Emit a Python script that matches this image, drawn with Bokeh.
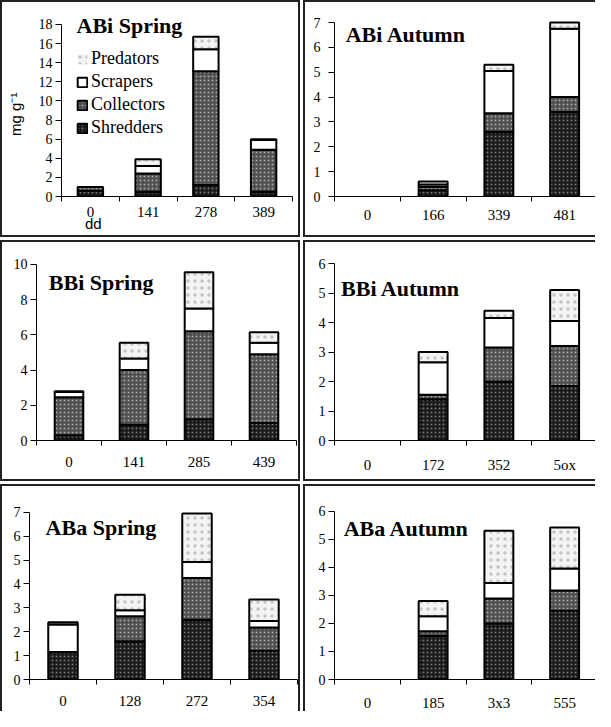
from bokeh.plotting import figure
from bokeh.models import (FixedTicker, Label, Legend, LegendItem, Range1d, ColumnDataSource,
                          LinearAxis)
from bokeh.layouts import row, column
from bokeh.embed import file_html
from bokeh.resources import INLINE

# ---------------- data (mg g-1 per functional feeding group) ----------------
groups = ["Shredders", "Collectors", "Scrapers", "Predators"]

abi_spring_dd = ["0", "141", "278", "389"]
abi_spring_shredders = [0.6, 0.5, 1.2, 0.5]
abi_spring_collectors = [0.4, 1.9, 11.9, 4.4]
abi_spring_scrapers = [0.0, 0.8, 2.3, 1.0]
abi_spring_predators = [0.0, 0.7, 1.3, 0.1]

abi_autumn_dd = ["0", "166", "339", "481"]
abi_autumn_shredders = [0.0, 0.25, 2.6, 3.4]
abi_autumn_collectors = [0.0, 0.13, 0.75, 0.6]
abi_autumn_scrapers = [0.0, 0.1, 1.7, 2.75]
abi_autumn_predators = [0.0, 0.12, 0.25, 0.25]

bbi_spring_dd = ["0", "141", "285", "439"]
bbi_spring_shredders = [0.3, 0.9, 1.2, 1.0]
bbi_spring_collectors = [2.15, 3.1, 5.0, 3.9]
bbi_spring_scrapers = [0.3, 0.65, 1.3, 0.65]
bbi_spring_predators = [0.05, 0.9, 2.05, 0.6]

bbi_autumn_dd = ["0", "172", "352", "5ox"]
bbi_autumn_shredders = [0.0, 1.4, 2.0, 1.85]
bbi_autumn_collectors = [0.0, 0.15, 1.15, 1.35]
bbi_autumn_scrapers = [0.0, 1.1, 1.0, 0.85]
bbi_autumn_predators = [0.0, 0.35, 0.25, 1.05]

aba_spring_dd = ["0", "128", "272", "354"]
aba_spring_shredders = [1.15, 1.6, 2.5, 1.2]
aba_spring_collectors = [0.0, 1.05, 1.75, 0.98]
aba_spring_scrapers = [1.15, 0.25, 0.67, 0.27]
aba_spring_predators = [0.1, 0.65, 2.03, 0.9]

aba_autumn_dd = ["0", "185", "3x3", "555"]
aba_autumn_shredders = [0.0, 1.55, 2.0, 2.45]
aba_autumn_collectors = [0.0, 0.17, 0.89, 0.72]
aba_autumn_scrapers = [0.0, 0.53, 0.55, 0.79]
aba_autumn_predators = [0.0, 0.55, 1.86, 1.46]

y_title = "mg g\u207b\u00b9"
x_title = "dd"

# ---------------- styles ----------------
STYLE = {
    "Shredders": dict(fill_color="#1a1a1a", hatch_pattern=".", hatch_color="#767676", hatch_scale=4, hatch_weight=1),
    "Collectors": dict(fill_color="#4f4f4f", hatch_pattern=".", hatch_color="#a8a8a8", hatch_scale=4, hatch_weight=1),
    "Scrapers": dict(fill_color="white"),
    "Predators": dict(fill_color="#f3f3f3", hatch_pattern=".", hatch_color="#c4c4c4", hatch_scale=7, hatch_weight=1),
}
BORDER = "2px solid #222"
SERIF = "Liberation Serif"
SANS = "Liberation Sans"
MB_TOP = 3


def make_panel(title, cats, series, ymax, ystep, width, height, mb, top_tick_px, title_xy,
               borders, xstandoff, ystandoff=3, legend=False, ylabel=None, xlabel=None):
    n = len(cats)
    zero_px = height - mb[3]
    # extend the plotting area above the top tick so the panel title fits inside it
    y_end = ymax * (zero_px - MB_TOP) / (zero_px - top_tick_px)
    p = figure(width=width, height=height, output_backend="svg", toolbar_location=None,
               x_range=Range1d(0, n), y_range=Range1d(0, y_end),
               min_border_left=mb[0], min_border_right=mb[1],
               min_border_top=MB_TOP, min_border_bottom=mb[3])
    p.xgrid.visible = False
    p.ygrid.visible = False
    p.outline_line_color = None
    p.background_fill_color = "white"
    p.border_fill_color = "white"

    xs = [i + 0.5 for i in range(n)]
    bottom = [0.0] * n
    rends = {}
    for g, vals in zip(groups, series):
        top = [b + v for b, v in zip(bottom, vals)]
        src = ColumnDataSource(dict(x=xs, bottom=bottom, top=top,
                                    la=[1.0 if v > 0 else 0.0 for v in vals]))
        rends[g] = p.vbar(x="x", bottom="bottom", top="top", width=0.44, source=src,
                          line_color="black", line_width=2, line_alpha="la", **STYLE[g])
        bottom = top

    # x axis: labels under the bars, ticks between the categories
    xa = p.xaxis[0]
    xa.ticker = FixedTicker(ticks=xs, minor_ticks=list(range(n + 1)))
    xa.major_label_overrides = {x: c for x, c in zip(xs, cats)}
    xa.major_tick_out = 0
    xa.major_tick_in = 0
    xa.minor_tick_out = 5
    xa.minor_tick_in = 0
    xa.minor_tick_line_color = "black"
    xa.major_label_standoff = xstandoff
    xa.major_label_text_font = SERIF
    xa.major_label_text_font_size = "15px"
    xa.major_label_text_color = "black"
    xa.axis_line_color = "black"

    ya = p.yaxis[0]
    ya.ticker = FixedTicker(ticks=list(range(0, ymax + 1, ystep)))
    ya.bounds = (0, ymax)
    ya.major_tick_out = 6
    ya.major_tick_in = 0
    ya.minor_tick_out = 0
    ya.minor_tick_in = 0
    ya.major_label_standoff = ystandoff
    ya.major_label_text_font = SERIF
    ya.major_label_text_font_size = "14px"
    ya.major_label_text_color = "black"
    ya.axis_line_color = "black"

    if ylabel:
        # y-axis title centred on the tick span (not on the taller frame)
        lab_y = LinearAxis(ticker=FixedTicker(ticks=[ylabel[1]]),
                           major_label_overrides={ylabel[1]: ylabel[0]},
                           major_label_orientation="vertical",
                           axis_line_color=None, major_tick_line_color=None,
                           minor_tick_line_color=None, major_label_standoff=5,
                           major_label_text_font=SANS, major_label_text_font_size="15px",
                           major_label_text_color="black")
        p.add_layout(lab_y, "left")

    p.add_layout(Label(x=title_xy[0], y=title_xy[1], text=title, text_font=SERIF,
                       text_font_size="22px", text_font_style="bold", text_color="black",
                       text_align="left", text_baseline="alphabetic"))
    if xlabel:
        # x-axis title ("dd") sits under the first category, as in the original
        lab_x = LinearAxis(ticker=FixedTicker(ticks=[xlabel[1]]),
                           major_label_overrides={xlabel[1]: xlabel[0]},
                           axis_line_color=None, major_tick_line_color=None,
                           minor_tick_line_color=None, major_label_standoff=-11,
                           major_label_text_font=SANS, major_label_text_font_size="15px",
                           major_label_text_color="black")
        p.add_layout(lab_x, "below")
    if legend:
        items = []
        for g in reversed(groups):
            idx = 0 if g == "Predators" else 2
            items.append(LegendItem(label=g, renderers=[rends[g]], index=idx))
        lg = Legend(items=items, location=(15, 58), orientation="vertical", padding=0,
                    margin=0, spacing=2, label_height=20, glyph_height=12, glyph_width=12,
                    label_standoff=3, border_line_alpha=0, background_fill_alpha=0,
                    label_text_font=SERIF, label_text_font_size="18px",
                    label_text_color="black")
        p.add_layout(lg)

    p.styles = {("border-" + b): BORDER for b in borders}
    return p


p1 = make_panel("ABi Spring", abi_spring_dd,
                [abi_spring_shredders, abi_spring_collectors, abi_spring_scrapers, abi_spring_predators],
                18, 2, 300, 237, (59, 10, 0, 42), 22, (0.26, 17.9), ["left", "top", "right", "bottom"],
                xstandoff=5, legend=True, ylabel=(y_title, 8.6), xlabel=(x_title, 0.55))
p2 = make_panel("ABi Autumn", abi_autumn_dd,
                [abi_autumn_shredders, abi_autumn_collectors, abi_autumn_scrapers, abi_autumn_predators],
                7, 1, 292, 237, (29, 0, 0, 43), 20, (0.17, 6.5), ["left", "top", "bottom"],
                xstandoff=8, ystandoff=8)
p3 = make_panel("BBi Spring", bbi_spring_dd,
                [bbi_spring_shredders, bbi_spring_collectors, bbi_spring_scrapers, bbi_spring_predators],
                10, 2, 300, 241, (34, 6, 0, 42), 22, (0.19, 9.0), ["left", "top", "right", "bottom"],
                xstandoff=11)
p4 = make_panel("BBi Autumn", bbi_autumn_dd,
                [bbi_autumn_shredders, bbi_autumn_collectors, bbi_autumn_scrapers, bbi_autumn_predators],
                6, 1, 292, 241, (29, 0, 0, 43), 21, (0.1, 5.15), ["left", "top", "bottom"],
                xstandoff=11)
p5 = make_panel("ABa Spring", aba_spring_dd,
                [aba_spring_shredders, aba_spring_collectors, aba_spring_scrapers, aba_spring_predators],
                7, 1, 300, 227, (27, 5, 0, 32), 26, (0.24, 6.38), ["left", "top", "right"],
                xstandoff=11)
p6 = make_panel("ABa Autumn", aba_autumn_dd,
                [aba_autumn_shredders, aba_autumn_collectors, aba_autumn_scrapers, aba_autumn_predators],
                6, 1, 292, 227, (29, 0, 0, 31), 25, (0.14, 5.37), ["left", "top"],
                xstandoff=10)

layout = column(row(p1, p2, spacing=3), row(p3, p4, spacing=3), row(p5, p6, spacing=3), spacing=3)

open("out.html", "w").write(file_html(layout, INLINE))
